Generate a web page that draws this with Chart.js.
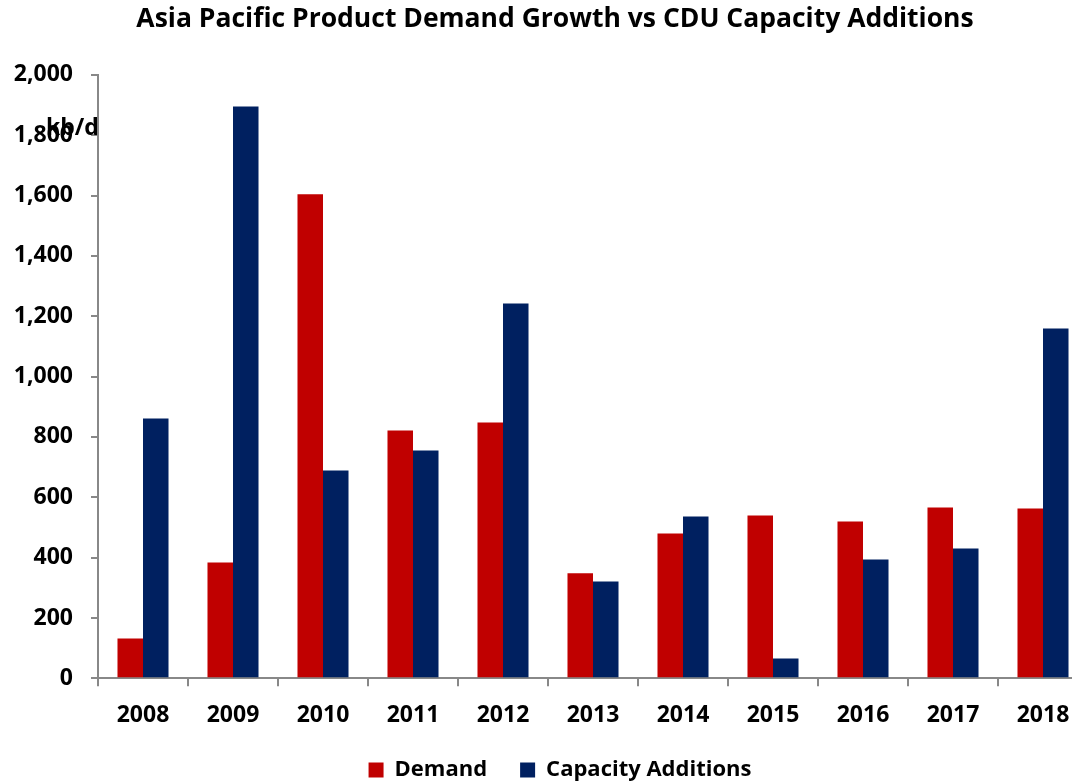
<!DOCTYPE html>
<html>
<head>
<meta charset="utf-8">
<script src="https://cdn.jsdelivr.net/npm/chart.js@4/dist/chart.umd.min.js"></script>
<style>
html,body{margin:0;padding:0;background:#fff;overflow:hidden;}
#wrap{width:1072px;height:781px;overflow:hidden;}
</style>
</head>
<body>
<div id="wrap"><canvas id="c" width="1091" height="810"></canvas></div>
<script>
const categories = ["2008","2009","2010","2011","2012","2013","2014","2015","2016","2017","2018"];
const demand = [132, 384, 1604, 821, 848, 348, 480, 540, 520, 566, 563];
const capacity = [861, 1895, 689, 755, 1242, 321, 536, 66, 394, 430, 1159];
const yTicks = [0, 200, 400, 600, 800, 1000, 1200, 1400, 1600, 1800, 2000];
const unitLabel = "kb/d";
const titleText = "Asia Pacific Product Demand Growth vs CDU Capacity Additions";

const FONT = "'Open Sans', sans-serif";

const unitPlugin = {
  id: 'unitLabel',
  afterDraw(chart) {
    const ctx = chart.ctx;
    const y = chart.scales.y;
    ctx.save();
    ctx.font = "bold 23px " + FONT;
    ctx.fillStyle = "#000";
    ctx.textAlign = "left";
    ctx.textBaseline = "middle";
    ctx.fillText(unitLabel, y.right - 52, y.getPixelForValue(1821));
    ctx.restore();
  }
};

// nudge title and legend boxes to match the reference placement
const boxShift = {
  id: 'boxShift',
  afterLayout(chart) {
    const lg = chart.legend;
    if (lg) { lg.top -= 19; lg.bottom -= 19; lg.left += 16; lg.right += 16; }
    const tb = chart.titleBlock;
    if (tb) { tb.left += 11; tb.right += 11; }
  }
};

new Chart(document.getElementById('c'), {
  type: 'bar',
  data: {
    labels: categories,
    datasets: [
      { label: 'Demand', data: demand, backgroundColor: '#C00000', borderWidth: 0 },
      { label: 'Capacity Additions', data: capacity, backgroundColor: '#002060', borderWidth: 0 }
    ]
  },
  options: {
    responsive: false,
    animation: false,
    layout: { padding: { left: 0, right: 3, top: 0, bottom: 0 } },
    datasets: { bar: { categoryPercentage: 0.567, barPercentage: 1.0 } },
    plugins: {
      title: {
        display: true, text: titleText, color: '#000',
        font: { family: FONT, size: 26.5, weight: 'bold' },
        padding: { top: 4, bottom: 39 }
      },
      legend: {
        position: 'bottom',
        labels: {
          color: '#000', boxWidth: 15, boxHeight: 15, padding: 33,
          font: { family: FONT, size: 22, weight: 'bold' }
        }
      },
      tooltip: { enabled: false }
    },
    scales: {
      x: {
        grid: { display: true, offset: true, drawOnChartArea: false, drawTicks: true, tickLength: 8, color: '#888', lineWidth: 2 },
        border: { display: true, color: '#888', width: 2 },
        ticks: { color: '#000', font: { family: FONT, size: 23, weight: 'bold', lineHeight: 0.81 }, padding: 20, maxRotation: 0 }
      },
      y: {
        min: 0, max: 2000,
        afterBuildTicks(scale) { scale.ticks = yTicks.map(v => ({ value: v })); },
        afterFit(scale) { scale.width = 98; },
        grid: { display: true, drawOnChartArea: false, drawTicks: true, tickLength: 7, color: '#888', lineWidth: 2 },
        border: { display: true, color: '#888', width: 2 },
        ticks: {
          color: '#000', font: { family: FONT, size: 23, weight: 'bold' }, padding: 18,
          callback: v => v.toLocaleString('en-US')
        }
      }
    }
  },
  plugins: [unitPlugin, boxShift]
});
</script>
</body>
</html>
